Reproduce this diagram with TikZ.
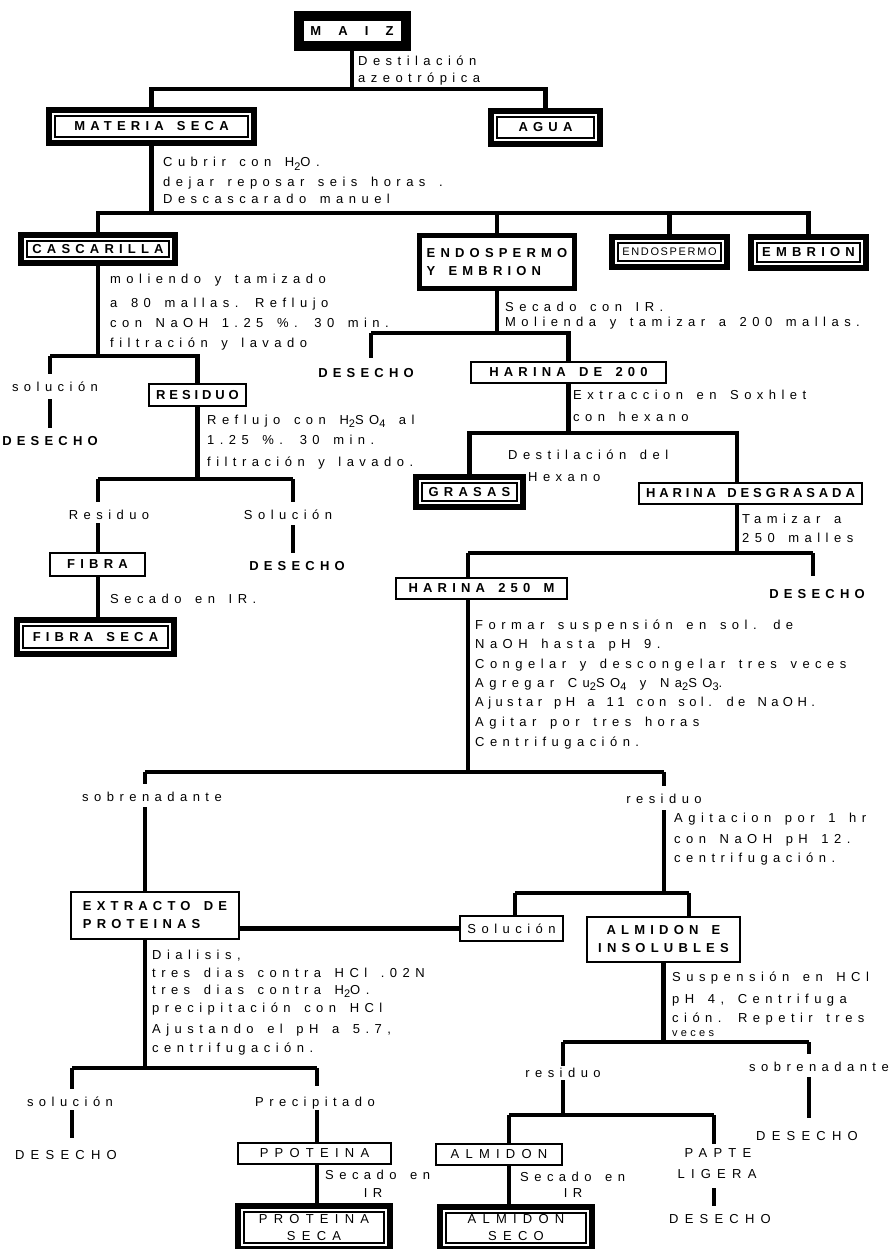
\documentclass[tikz,border=0pt]{standalone}
\usepackage{fontspec}
\setmainfont{Liberation Sans}[WordSpace=1.5]
\usetikzlibrary{calc}
\newcommand{\sbs}[1]{\raisebox{-3.5pt}{\fontsize{11}{12}\selectfont#1}}
\begin{document}
\begin{tikzpicture}[x=1pt,y=-1pt,
  conn/.style={line width=4.5pt},
  lfont/.style={font=\fontsize{13}{15}\selectfont\addfontfeature{LetterSpace=42}},
  txt/.style={inner sep=0pt, anchor=base west, lfont},
  ctxt/.style={txt, anchor=base},
  capb/.style={font=\bfseries\fontsize{13}{18}\selectfont\addfontfeature{LetterSpace=40}},
  capr/.style={font=\fontsize{13}{17}\selectfont\addfontfeature{LetterSpace=48}},
  clab/.style={inner sep=0pt, anchor=base, capb},
  clabr/.style={inner sep=0pt, anchor=base, capr},
  bx/.style 2 args={minimum width=#1, minimum height=#2, inner sep=0pt},
  tbox/.style={draw, line width=2pt},
  kbox/.style={draw, line width=5pt}]
\fill[white] (0,0) rectangle (891,1249);
\useasboundingbox (0,0) rectangle (891,1249);

% ---------- boxes ----------
\node[draw, line width=10pt, bx={107}{30}, font=\bfseries\fontsize{13}{18}\selectfont\addfontfeature{LetterSpace=60}] (maiz) at (352,31) {M A I Z};
\node[bx={211}{39}, capb] (materia) at (151.5,126.5) {MATERIA SECA};
\node[bx={115}{39}, capb] (agua) at (545.5,127.5) {AGUA};
\node[bx={160}{34}, capb] (casc) at (98,249) {CASCARILLA};
\node[kbox, bx={155}{53}, capb, align=left] (eye) at (497,262) {ENDOSPERMO\\Y EMBRION};
\node[bx={121}{36}, font=\fontsize{11}{13}\selectfont\addfontfeature{LetterSpace=15}] (endo) at (669.5,252) {ENDOSPERMO};
\node[bx={121}{37}, capb] (emb) at (808.5,252.5) {EMBRION};
\node[tbox, bx={97}{22}, font=\bfseries\fontsize{13}{18}\selectfont\addfontfeature{LetterSpace=30}] (resid) at (197.5,395) {RESIDUO};
\node[tbox, bx={195}{21}, capb] (h200) at (568.5,372.5) {HARINA DE 200};
\node[bx={113}{36}, capb] (grasas) at (469.5,492) {GRASAS};
\node[tbox, bx={223}{21}, font=\bfseries\fontsize{13}{18}\selectfont\addfontfeature{LetterSpace=30}] (hdes) at (750.5,493.5) {HARINA DESGRASADA};
\node[tbox, bx={171}{21}, capb] (h250) at (481.5,588.5) {HARINA 250 M};
\node[tbox, bx={95}{23}, capb] (fibra) at (97.5,564.5) {FIBRA};
\node[bx={163}{40}, capb] (fseca) at (95.5,637) {FIBRA SECA};
\node[tbox, bx={168}{47}, capb, align=left] (extr) at (155,915.5) {EXTRACTO DE\\PROTEINAS};
\node[tbox, bx={103}{25}, lfont] (solu) at (511.5,928.5) {Solución};
\node[tbox, bx={153}{45}, capb, align=center] (aei) at (663.5,939.5) {ALMIDON E\\INSOLUBLES};
\node[tbox, bx={153}{21}, capr] (ppro) at (314.5,1153.5) {PPOTEINA};
\node[bx={158}{49}, capr, align=center] (pseca) at (314,1227.5) {PROTEINA\\SECA};
\node[tbox, bx={126}{21}, capr] (alm) at (499,1154.5) {ALMIDON};
\node[bx={158}{48}, capr, align=center] (aseca) at (516,1228) {ALMIDON\\SECO};

\foreach \n in {materia,agua,casc,endo,emb,grasas,fseca,pseca,aseca}{
  \draw[line width=6pt] ($(\n.north west)+(3,3)$) rectangle ($(\n.south east)+(-3,-3)$);
  \draw[line width=1.6pt] ($(\n.north west)+(9,9)$) rectangle ($(\n.south east)+(-9,-9)$);
}

% ---------- process texts ----------
\node[txt] (ta1) at (358,66) {Destilación};
\node[txt] (ta2) at (358,83) {azeotrópica};
\node[txt] (tb1) at (163,167) {Cubrir con H\sbs{2}O.};
\node[txt] (tb2) at (163,187) {dejar reposar seis horas .};
\node[txt] (tb3) at (163,204) {Descascarado manuel};
\node[txt] (tc1) at (110,283) {moliendo y tamizado};
\node[txt] (tc2) at (110,307) {a 80 mallas. Reflujo};
\node[txt] (tc3) at (110,327) {con NaOH 1.25 \%. 30 min.};
\node[txt] (tc4) at (110,347) {filtración y lavado};
\node[txt] (td1) at (207,424) {Reflujo con H\sbs{2}SO\sbs{4} al};
\node[txt] (td2) at (207,444) {1.25 \%. 30 min.};
\node[txt] (td3) at (207,466) {filtración y lavado.};
\node[txt] (te1) at (505,311) {Secado con IR.};
\node[txt] (te2) at (505,326) {Molienda y tamizar a 200 mallas.};
\node[txt] (tf1) at (573,399) {Extraccion en Soxhlet};
\node[txt] (tf2) at (573,421) {con hexano};
\node[txt] (tg1) at (508,459) {Destilación del};
\node[txt] (tg2) at (528,481) {Hexano};
\node[txt] (th1) at (742,523) {Tamizar a};
\node[txt] (th2) at (742,542) {250 malles};
\node[txt] (ti1) at (475,629) {Formar suspensión en sol. de};
\node[txt] (ti2) at (475,648) {NaOH hasta pH 9.};
\node[txt] (ti3) at (475,668) {Congelar y descongelar tres veces};
\node[txt] (ti4) at (475,687) {Agregar Cu\sbs{2}SO\sbs{4} y Na\sbs{2}SO\sbs{3}.};
\node[txt, font=\fontsize{13}{15}\selectfont\addfontfeature{LetterSpace=34}] (ti5) at (475,706) {Ajustar pH a 11 con sol. de NaOH.};
\node[txt] (ti6) at (475,726) {Agitar por tres horas};
\node[txt] (ti7) at (475,746) {Centrifugación.};
\node[txt] (tj1) at (674,822) {Agitacion por 1 hr};
\node[txt] (tj2) at (674,843) {con NaOH pH 12.};
\node[txt] (tj3) at (674,862) {centrifugación.};
\node[txt] (tk1) at (152,959) {Dialisis,};
\node[txt] (tk2) at (152,977) {tres dias contra HCl .02N};
\node[txt] (tk3) at (152,994) {tres dias contra H\sbs{2}O.};
\node[txt] (tk4) at (152,1012) {precipitación con HCl};
\node[txt] (tk5) at (152,1033) {Ajustando el pH a 5.7,};
\node[txt] (tk6) at (152,1052) {centrifugación.};
\node[txt] (tl1) at (672,981) {Suspensión en HCl};
\node[txt] (tl2) at (672,1003) {pH 4, Centrifuga};
\node[txt] (tl3) at (672,1022) {ción. Repetir tres};
\node[txt, font=\fontsize{11}{12}\selectfont\addfontfeature{LetterSpace=30}] (tl4) at (672,1036) {veces};
\node[txt] (tm1) at (325,1179) {Secado en};
\node[ctxt] (tm2) at (373,1197) {IR};
\node[txt] (tn1) at (520,1181) {Secado en};
\node[ctxt] (tn2) at (573,1197) {IR};
\node[txt] (to1) at (110,603) {Secado en IR.};

% ---------- branch labels ----------
\node[ctxt] (sol1) at (55,391) {solución};
\node[clab] (des1) at (50,445) {DESECHO};
\node[ctxt] (resi2) at (109,519) {Residuo};
\node[ctxt] (sol2) at (288,519) {Solución};
\node[clab] (des2) at (297,570) {DESECHO};
\node[clab] (des3) at (366,377) {DESECHO};
\node[clab] (des4) at (817,598) {DESECHO};
\node[ctxt] (sob1) at (152,801) {sobrenadante};
\node[ctxt] (res1) at (664,803) {residuo};
\node[ctxt] (sol3) at (70,1106) {solución};
\node[clabr] (des5) at (66,1159) {DESECHO};
\node[ctxt] (prec) at (315,1106) {Precipitado};
\node[ctxt] (res2) at (563,1077) {residuo};
\node[ctxt] (sob2) at (819,1071) {sobrenadante};
\node[clabr] (des6) at (807,1140) {DESECHO};
\node[clabr] (pap) at (718,1157) {PAPTE};
\node[clabr] (lig) at (717,1178) {LIGERA};
\node[clabr] (des7) at (720,1223) {DESECHO};

% ---------- bar rows and junctions ----------
\coordinate (r1) at (0,89);
\coordinate (r2) at (0,213);
\coordinate (r5) at (0,333);
\coordinate (r6) at (0,433);
\coordinate (c3) at (50,356);
\coordinate (c4l) at (98,479);
\coordinate (c4r) at (293,479);
\coordinate (c5) at (371,333);
\coordinate (c6r) at (737,433);
\coordinate (c7l) at (468,553);
\coordinate (c7r) at (813,553);
\coordinate (c8l) at (145,772);
\coordinate (c8r) at (664,772);
\coordinate (c9l) at (515,893);
\coordinate (c9r) at (689,893);
\coordinate (c10l) at (72,1068);
\coordinate (c10r) at (317,1068);
\coordinate (c11l) at (563,1042);
\coordinate (c11r) at (809,1042);
\coordinate (c12l) at (509,1115);
\coordinate (c12r) at (714,1115);

% ---------- connectors ----------
\draw[conn] (maiz.south) -- (maiz.south |- r1);
\draw[conn] (materia.north) |- (agua.north |- r1) -- (agua.north);
\draw[conn] (materia.south) -- (materia.south |- r2);
\draw[conn] (casc.north) |- (emb.north |- r2) -- (emb.north);
\draw[conn] (eye.north) -- (eye.north |- r2);
\draw[conn] (endo.north) -- (endo.north |- r2);
% cascarilla branch
\draw[conn] (casc.south) -- (casc.south |- c3);
\draw[conn] (c3) -- (resid.north |- c3) -- (resid.north);
\draw[conn, shorten >=7pt] (c3) -- (c3 |- sol1.north);
\draw[conn, shorten <=8pt, shorten >=8pt] (c3 |- sol1.south) -- (c3 |- des1.north);
\draw[conn] (resid.south) -- (resid.south |- c4l);
\draw[conn] (c4l) -- (c4r);
\draw[conn, shorten >=7pt] (c4l) -- (c4l |- resi2.north);
\draw[conn, shorten <=4pt] (c4l |- resi2.south) -- (c4l |- fibra.north);
\draw[conn, shorten >=7pt] (c4r) -- (c4r |- sol2.north);
\draw[conn, shorten <=6pt, shorten >=8pt] (c4r |- sol2.south) -- (c4r |- des2.north);
\draw[conn] (c4l |- fibra.south) -- (c4l |- fseca.north);
% endospermo branch
\draw[conn] (eye.south) -- (eye.south |- r5);
\draw[conn] (c5) -- (h200.north |- r5) -- (h200.north);
\draw[conn, shorten >=10pt] (c5) -- (c5 |- des3.north);
\draw[conn] (h200.south) -- (h200.south |- r6);
\draw[conn] (grasas.north) |- (c6r) -- (c6r |- hdes.north);
\draw[conn] (c6r |- hdes.south) -- (c6r |- c7l);
\draw[conn] (c7l) -- (c7r);
\draw[conn] (c7l) -- (c7l |- h250.north);
\draw[conn, shorten >=13pt] (c7r) -- (c7r |- des4.north);
\draw[conn] (c7l |- h250.south) -- (c7l |- c8l);
\draw[conn] (c8l) -- (c8r);
\draw[conn, shorten >=7pt] (c8l) -- (c8l |- sob1.north);
\draw[conn, shorten <=6pt] (c8l |- sob1.south) -- (c8l |- extr.north);
\draw[conn, shorten >=7pt] (c8r) -- (c8r |- res1.north);
\draw[conn, shorten <=7pt] (c8r |- res1.south) -- (c8r |- c9l);
\draw[conn] (c9l) -- (c9r);
\draw[conn] (c9l) -- (c9l |- solu.north);
\draw[conn] (c9r) -- (c9r |- aei.north);
\draw[conn] (extr.east |- solu.west) -- (solu.west);
% protein branch
\draw[conn] (c8l |- extr.south) -- (c8l |- c10l);
\draw[conn] (c10l) -- (c10r);
\draw[conn, shorten >=7pt] (c10l) -- (c10l |- sol3.north);
\draw[conn, shorten <=4pt, shorten >=12pt] (c10l |- sol3.south) -- (c10l |- des5.north);
\draw[conn, shorten >=10pt] (c10r) -- (c10r |- prec.north);
\draw[conn, shorten <=1pt] (c10r |- prec.south) -- (c10r |- ppro.north);
\draw[conn] (c10r |- ppro.south) -- (c10r |- pseca.north);
% starch branch
\draw[conn] (aei.south) -- (aei.south |- c11l);
\draw[conn] (c11l) -- (c11r);
\draw[conn, shorten >=1pt] (c11l) -- (c11l |- res2.north);
\draw[conn, shorten <=3pt] (c11l |- res2.south) -- (c11l |- c12l);
\draw[conn, shorten >=7pt] (c11r) -- (c11r |- sob2.north);
\draw[conn, shorten <=6pt, shorten >=13pt] (c11r |- sob2.south) -- (c11r |- des6.north);
\draw[conn] (c12l) -- (c12r);
\draw[conn] (c12l) -- (c12l |- alm.north);
\draw[conn, shorten >=4pt] (c12r) -- (c12r |- pap.north);
\draw[conn, shorten <=10pt, shorten >=8pt] (c12r |- lig.south) -- (c12r |- des7.north);
\draw[conn] (c12l |- alm.south) -- (c12l |- aseca.north);
\end{tikzpicture}
\end{document}
